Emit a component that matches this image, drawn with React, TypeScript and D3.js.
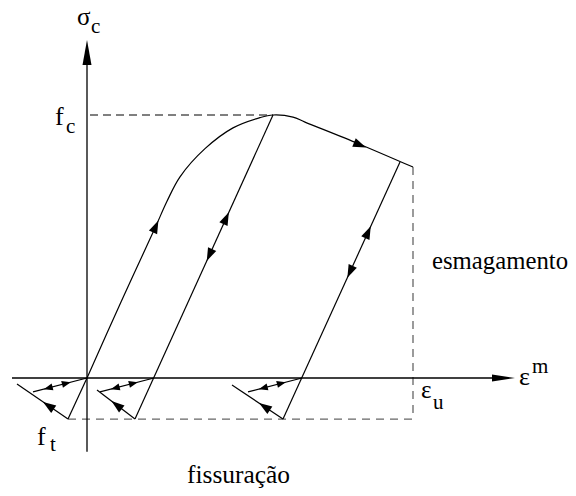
import React from "react";
import * as d3 from "d3";

// Envelope (compression) curve: strain (relative units) and stress (σ/fc)
const envelopeStrain = [0, 0.34, 0.68, 0.8, 0.93, 1.18, 1.46, 1.73, 1.86, 2.06, 2.18, 2.72, 3.26];
const envelopeStress = [0, 0.289, 0.57, 0.672, 0.765, 0.872, 0.951, 0.99, 1.0, 0.992, 0.973, 0.89, 0.802];

// Unloading branches start points (on envelope)
const unloadTopStrain = [1.86, 3.13];
const unloadTopStress = [1.0, 0.821];

// Cracking triangles (tension side)
const crackApexStrain = [0, 0.67, 2.15];
const crackBottomStrain = [-0.19, 0.48, 1.96];
const tensileStress = -0.156; // f_t
const compressiveStress = 1.0; // f_c
const softTopStrain = [-0.7, 0.1, 1.45];
const softTopStress = [-0.023, -0.046, -0.027];
const reloadEndStrain = [-0.54, 0.13, 1.61];
const reloadEndStress = [-0.053, -0.053, -0.053];
const softArrowT = [0.49, 0.62, 0.47];
const ultimateStrain = 3.26;

const axisStrain = [-0.75, 4.28];
const axisStress = [-0.28, 1.285];

// Labels
const labelTexts = ["σ", "c", "f", "c", "f", "t", "ε", "u", "ε", "m", "esmagamento", "fissuração"];

type P = [number, number];

const x = d3.scaleLinear().domain([0, 1]).range([87, 187]);
const y = d3.scaleLinear().domain([0, 1]).range([378, 115]);

const px = (e: number, s: number): P => [x(e), y(s)];

function arrow(p0: P, p1: P, t: number, reverse: boolean, L: number, W: number) {
  const tip: P = [p0[0] + t * (p1[0] - p0[0]), p0[1] + t * (p1[1] - p0[1])];
  let dx = p1[0] - p0[0];
  let dy = p1[1] - p0[1];
  const len = Math.hypot(dx, dy);
  dx /= len;
  dy /= len;
  if (reverse) {
    dx = -dx;
    dy = -dy;
  }
  const bx = tip[0] - L * dx;
  const by = tip[1] - L * dy;
  const nx = -dy;
  const ny = dx;
  return `M${tip[0]},${tip[1]}L${bx + W * nx},${by + W * ny}L${bx - W * nx},${by - W * ny}Z`;
}

export default function App() {
  const envPts: P[] = envelopeStrain.map((e, i) => px(e, envelopeStress[i]));
  const envPath = d3.line<P>().curve(d3.curveCatmullRom.alpha(0.5))(envPts) || "";
  const seg = d3.line<P>();

  const unload2Top = px(unloadTopStrain[0], unloadTopStress[0]);
  const unload2Bot = px(crackBottomStrain[1], tensileStress);
  const unload3Top = px(unloadTopStrain[1], unloadTopStress[1]);
  const unload3Bot = px(crackBottomStrain[2], tensileStress);
  const origin = px(0, 0);
  const firstBot = px(crackBottomStrain[0], tensileStress);

  const arrows: string[] = [];
  arrows.push(arrow(origin, envPts[2], 1.05, false, 13, 4.5));
  arrows.push(arrow(envPts[10], envPts[12], 0.565, false, 13, 4.5));
  arrows.push(arrow(unload2Top, unload2Bot, 0.32, true, 13, 4.5));
  arrows.push(arrow(unload2Top, unload2Bot, 0.48, false, 13, 4.5));
  arrows.push(arrow(unload3Top, unload3Bot, 0.25, true, 13, 4.5));
  arrows.push(arrow(unload3Top, unload3Bot, 0.45, false, 13, 4.5));

  const cracks = crackApexStrain.map((a, i) => {
    const apex = px(a, 0);
    const bot = px(crackBottomStrain[i], tensileStress);
    const soft = px(softTopStrain[i], softTopStress[i]);
    const rel = px(reloadEndStrain[i], reloadEndStress[i]);
    arrows.push(arrow(bot, soft, softArrowT[i], false, 13, 4.5));
    arrows.push(arrow(apex, rel, 0.8, false, 9, 3.5));
    arrows.push(arrow(apex, rel, 0.3, true, 9, 3.5));
    return { apex, bot, soft, rel };
  });

  const xAxisY = y(0);
  const yAxisX = x(0);

  // [x, y, fontSize, textLength(0 = natural)]
  const labelPos: [number, number, number, number][] = [
    [77, 25, 25, 0],
    [91, 33, 21, 0],
    [55, 125, 26, 0],
    [66, 133, 21, 0],
    [37, 445, 26, 0],
    [50, 451, 21, 0],
    [421, 398, 25, 0],
    [433, 409, 21, 0],
    [519, 385, 26, 0],
    [532, 373, 21, 0],
    [432, 269, 25, 136],
    [187, 483, 25, 103],
  ];

  const FONT = "'Liberation Serif', 'Times New Roman', Tinos, 'DejaVu Serif', serif";

  return (
    <div style={{ position: "absolute", left: 0, top: 0, width: 576, height: 496, fontFamily: FONT }}>
      <svg width={576} height={496} style={{ display: "block", background: "#fff", fontFamily: FONT }}>
        <line
          x1={x(0) + 3}
          x2={x(envelopeStrain[8])}
          y1={y(compressiveStress)}
          y2={y(compressiveStress)}
          stroke="#000"
          strokeWidth={1}
          strokeDasharray="8,5"
        />
        <line
          x1={firstBot[0]}
          x2={x(ultimateStrain)}
          y1={y(tensileStress)}
          y2={y(tensileStress)}
          stroke="#666"
          strokeWidth={1.3}
          strokeDasharray="8,6"
        />
        <line
          x1={x(ultimateStrain)}
          x2={x(ultimateStrain)}
          y1={y(envelopeStress[12])}
          y2={y(tensileStress)}
          stroke="#666"
          strokeWidth={1.3}
          strokeDasharray="8,6"
        />

        <line x1={x(axisStrain[0])} x2={x(axisStrain[1]) - 20} y1={xAxisY} y2={xAxisY} stroke="#000" strokeWidth={1.3} />
        <path
          d={`M${x(axisStrain[1])},${xAxisY}L${x(axisStrain[1]) - 23},${xAxisY - 3.5}L${x(axisStrain[1]) - 23},${xAxisY + 3.5}Z`}
          fill="#000"
        />
        <line x1={yAxisX} x2={yAxisX} y1={y(axisStress[0])} y2={y(axisStress[1]) + 20} stroke="#000" strokeWidth={1.3} />
        <path
          d={`M${yAxisX},${y(axisStress[1])}L${yAxisX - 4.5},${y(axisStress[1]) + 25}L${yAxisX + 4.5},${y(axisStress[1]) + 25}Z`}
          fill="#000"
        />

        <path d={envPath} fill="none" stroke="#000" strokeWidth={1.2} />
        <path d={seg([firstBot, origin]) || ""} fill="none" stroke="#000" strokeWidth={1.2} />
        <path d={seg([unload2Top, unload2Bot]) || ""} fill="none" stroke="#000" strokeWidth={1.2} />
        <path d={seg([unload3Top, unload3Bot]) || ""} fill="none" stroke="#000" strokeWidth={1.2} />

        {cracks.map((c, i) => (
          <g key={i}>
            <path d={seg([c.bot, c.soft]) || ""} fill="none" stroke="#000" strokeWidth={1.2} />
            <path d={seg([c.apex, c.rel]) || ""} fill="none" stroke="#000" strokeWidth={1.2} />
          </g>
        ))}

        {arrows.map((d, i) => (
          <path key={i} d={d} fill="#000" />
        ))}

        {labelTexts.map((txt, i) => {
          const [lx, ly, fs, tl] = labelPos[i];
          const extra = tl > 0 ? { textLength: tl, lengthAdjust: "spacingAndGlyphs" } : {};
          return (
            <text key={i} x={lx} y={ly} fontSize={fs} fill="#000" style={{ fontFamily: FONT }} {...extra}>
              {txt}
            </text>
          );
        })}
      </svg>
    </div>
  );
}
